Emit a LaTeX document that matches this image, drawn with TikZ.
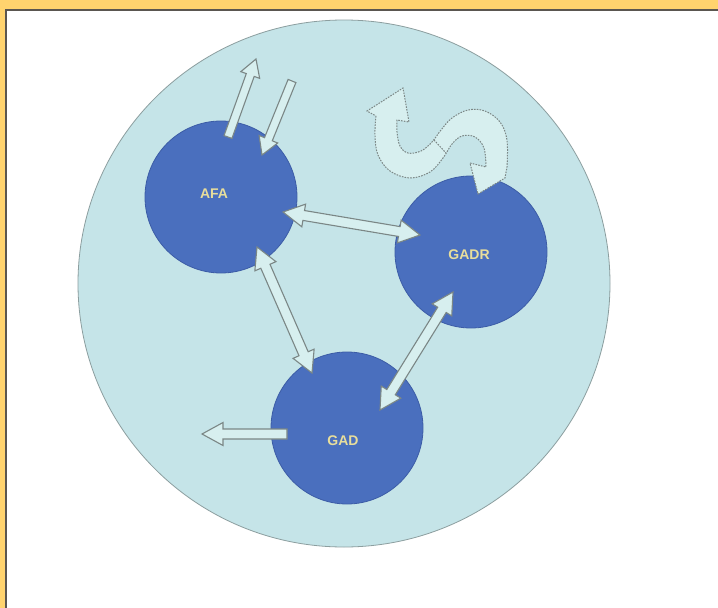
\documentclass[tikz,border=0pt]{standalone}
\usepackage{fontspec}
\setmainfont{Liberation Sans}
\usetikzlibrary{calc,shapes.geometric}

\definecolor{framey}{HTML}{FFD36E}
\definecolor{frameline}{HTML}{5A5650}
\definecolor{cellbg}{HTML}{C5E4E8}
\definecolor{cellrim}{HTML}{8C9E9F}
\definecolor{orgfill}{HTML}{4A6FBE}
\definecolor{orgrim}{HTML}{3C5CA6}
\definecolor{flowfill}{HTML}{D7EFEF}
\definecolor{flowrim}{HTML}{7B8786}
\definecolor{labeltxt}{HTML}{E8DE9C}

% block arrow dimensions
\newcommand\shaftw{5pt}
\newcommand\headw{11.5pt}
\newcommand\headl{21pt}

% hollow block arrow from #1 to #2
\newcommand\singlearrow[2]{%
  \draw[flow] let \p1=(#1), \p2=(#2),
      \n1={atan2(\y2-\y1,\x2-\x1)}, \n2={veclen(\x2-\x1,\y2-\y1)} in
    [shift={(\p1)}, rotate=\n1]
    (0pt,-\shaftw) -- ({\n2*1pt-\headl},-\shaftw) -- ({\n2*1pt-\headl},-\headw)
    -- ({\n2*1pt},0pt) -- ({\n2*1pt-\headl},\headw) -- ({\n2*1pt-\headl},\shaftw)
    -- (0pt,\shaftw) -- cycle;}

% hollow block arrow with heads at both ends
\newcommand\doublearrow[2]{%
  \draw[flow] let \p1=(#1), \p2=(#2),
      \n1={atan2(\y2-\y1,\x2-\x1)}, \n2={veclen(\x2-\x1,\y2-\y1)} in
    [shift={(\p1)}, rotate=\n1]
    (0pt,0pt) -- (\headl,\headw) -- (\headl,\shaftw)
    -- ({\n2*1pt-\headl},\shaftw) -- ({\n2*1pt-\headl},\headw)
    -- ({\n2*1pt},0pt) -- ({\n2*1pt-\headl},-\headw) -- ({\n2*1pt-\headl},-\shaftw)
    -- (\headl,-\shaftw) -- (\headl,-\headw) -- cycle;}

\tikzset{
  org/.style={circle, minimum size=152pt, inner sep=0pt, fill=orgfill, draw=orgrim, line width=0.8pt},
  orglabel/.style={text=labeltxt, font=\bfseries\fontsize{14}{14}\selectfont, inner sep=0pt},
  flow/.style={draw=flowrim, fill=flowfill, line width=1.1pt, line join=miter},
  loopflow/.style={draw=flowrim, fill=flowfill, line width=1pt, dash pattern=on 1.6pt off 1.2pt},
}

\begin{document}
\begin{tikzpicture}[x=1pt, y=-1pt]
  \useasboundingbox (0,0) rectangle (718,608);
  % page frame
  \fill[white] (0,0) rectangle (718,608);
  \fill[framey] (0,0) rectangle (718,9);
  \fill[framey] (0,0) rectangle (5,608);
  \draw[frameline, line width=1.5pt] (5.75,608) -- (5.75,9.75) -- (718,9.75);

  % enclosing cell
  \node[ellipse, minimum width=532pt, minimum height=527pt, inner sep=0pt,
        fill=cellbg, draw=cellrim, line width=0.8pt] (cell) at (344,283.5) {};

  % the three bodies
  \node[org] (afa)  at (221,197) {};
  \node[org] (gadr) at (471,252) {};
  \node[org] (gad)  at (347,428) {};

  % arrow end points
  \coordinate (afaout)    at ([shift={(7,-60)}]afa.center);
  \coordinate (afaoutend) at (256,59);
  \coordinate (afainsrc)  at (292,81);
  \coordinate (afain)     at ([shift={(41,-42)}]afa.center);
  \coordinate (afaE)      at ([shift={(62,15)}]afa.center);
  \coordinate (afaS)      at ([shift={(36,50)}]afa.center);
  \coordinate (gadrW)     at ([shift={(-51,-17)}]gadr.center);
  \coordinate (gadrSW)    at ([shift={(-18,40)}]gadr.center);
  \coordinate (gadN)      at ([shift={(-35,-55)}]gad.center);
  \coordinate (gadNE)     at ([shift={(33,-18)}]gad.center);
  \coordinate (gadW)      at ([shift={(-60,6)}]gad.center);
  \coordinate (gadoutend) at (202,434);

  % exchanges between the bodies
  \doublearrow{afaE}{gadrW}
  \doublearrow{afaS}{gadN}
  \doublearrow{gadrSW}{gadNE}
  \singlearrow{gadW}{gadoutend}
  \begin{scope}
    \renewcommand\shaftw{4.2pt}
    \renewcommand\headw{10pt}
    \renewcommand\headl{17pt}
    \singlearrow{afaout}{afaoutend}
    \singlearrow{afainsrc}{afain}
  \end{scope}

  % S-shaped two-way loop above GADR
  \draw[loopflow]
    plot[smooth, tension=0.6] coordinates {(376,116) (375,135) (378,155) (390,171)
      (410,178) (430,172) (443,158) (452,144) (462,136) (475,137) (484,148) (486,167)}
    -- (470,163) -- (478,194) -- (505,178)
    -- plot[smooth, tension=0.6] coordinates {(507,167) (507,140) (500,122) (485,111)
      (468,110) (452,118) (441,130) (432,142) (421,151) (408,153) (400,146) (397,132)
      (397,120)}
    -- (409,122) -- (403,88) -- (367,111) -- cycle;
  \draw[flowrim, line width=1pt, dash pattern=on 1.6pt off 1.2pt] (434,140) -- (446,153);

  % labels
  \node[orglabel] (afalabel)  at (214,194) {AFA};
  \node[orglabel] (gadrlabel) at (469,255) {GADR};
  \node[orglabel] (gadlabel)  at (343,441) {GAD};
\end{tikzpicture}
\end{document}
